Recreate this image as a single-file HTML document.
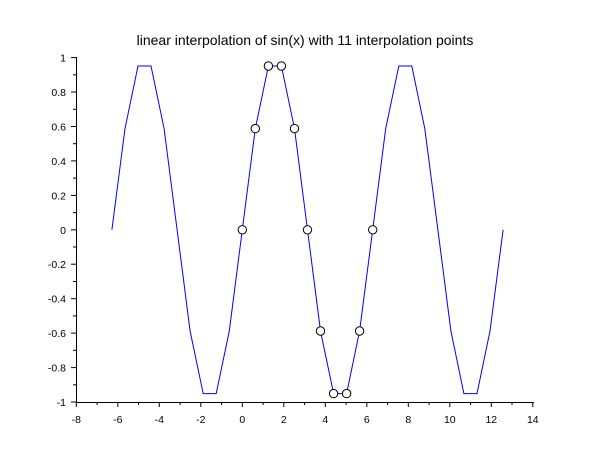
<!DOCTYPE html>
<html><head><style>body{margin:0;background:#fff}svg{display:block}text{font-family:"Liberation Sans",sans-serif;fill:#000}</style></head>
<body>
<svg id="s" width="610" height="460" xmlns="http://www.w3.org/2000/svg">
<rect width="610" height="460" fill="#fff"/>
<text x="305" y="45" font-size="14" text-anchor="middle">linear interpolation of sin(x) with 11 interpolation points</text>
<g id="ax" stroke="#000" stroke-width="1"></g>
<g id="lab" font-size="10.5"></g>
<polyline id="pl" fill="none" stroke="#0000ff" stroke-width="1"/>
<g id="mk" fill="#fff" stroke="#000" stroke-width="1"></g>
</svg>
<script>
var x0=242.3,sx=20.75,y0=229.8,sy=172.2;
function X(v){return x0+v*sx}function Y(v){return y0-v*sy}
var ax=document.getElementById('ax'),lab=document.getElementById('lab'),h='',l='';
h+='<line x1="76.5" y1="57" x2="76.5" y2="402.5"/><line x1="76" y1="402.5" x2="534" y2="402.5"/>';
for(var i=-8;i<=14;i+=2){var px=X(i).toFixed(1);h+='<line x1="'+px+'" y1="402" x2="'+px+'" y2="407"/>';l+='<text x="'+px+'" y="423" text-anchor="middle">'+i+'</text>';
 if(i<14){var m=X(i+1).toFixed(1);h+='<line x1="'+m+'" y1="402" x2="'+m+'" y2="405"/>';}}
for(var j=-5;j<=5;j++){var v=j/5,py=Y(v).toFixed(1);h+='<line x1="71" y1="'+py+'" x2="76" y2="'+py+'"/>';
 var t=(Math.round(v*10)/10).toString();l+='<text x="66" y="'+(Y(v)+4).toFixed(1)+'" text-anchor="end">'+t+'</text>';
 if(j<5){var m2=Y(v+0.1).toFixed(1);h+='<line x1="73" y1="'+m2+'" x2="76" y2="'+m2+'"/>';}}
ax.innerHTML=h;lab.innerHTML=l;
var pts=[],mk='';
for(var k=-10;k<=20;k++){var x=2*Math.PI*k/10,y=Math.sin(2*Math.PI*((k%10+10)%10)/10);pts.push(X(x).toFixed(1)+','+Y(y).toFixed(1));
 if(k>=0&&k<=10)mk+='<circle cx="'+X(x).toFixed(1)+'" cy="'+Y(y).toFixed(1)+'" r="4.2"/>';}
document.getElementById('pl').setAttribute('points',pts.join(' '));
document.getElementById('mk').innerHTML=mk;
</script>
</body></html>
